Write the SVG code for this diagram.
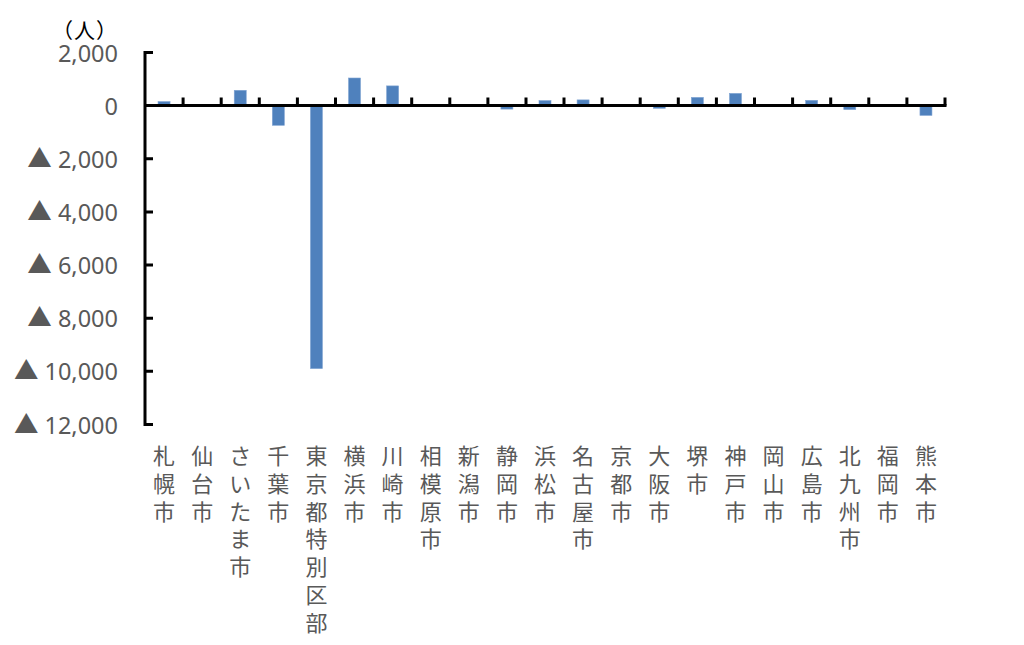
<svg xmlns="http://www.w3.org/2000/svg" width="1024" height="645" viewBox="0 0 1024 645">
<style>
.bar{fill:#4f81bd;stroke:#7fa3d3;stroke-width:0.6}
.ax{stroke:#000;stroke-width:3;fill:none;stroke-linecap:square}
.tk{stroke:#000;stroke-width:3;fill:none}
.yl{font-family:"Noto Sans","Noto Sans CJK JP",sans-serif;font-size:23.5px;fill:#595959;text-anchor:end}
.tri{font-family:"Noto Sans CJK JP",sans-serif;font-size:24.5px}
.cl{font-family:"Noto Sans CJK JP",sans-serif;font-size:22px;fill:#595959;text-anchor:middle}
.un{font-family:"Noto Sans CJK JP",sans-serif;font-size:21px;fill:#000;text-anchor:middle;letter-spacing:1px}
</style>
<rect width="1024" height="645" fill="#fff"/>
<text class="un" x="85" y="38">（人）</text>
<g id="y-labels">
<text class="yl" x="118" y="61.5">2,000</text>
<text class="yl" x="118" y="114.6">0</text>
<text class="yl" x="118" y="167.7"><tspan class="tri">▲</tspan> 2,000</text>
<text class="yl" x="118" y="220.9"><tspan class="tri">▲</tspan> 4,000</text>
<text class="yl" x="118" y="274"><tspan class="tri">▲</tspan> 6,000</text>
<text class="yl" x="118" y="327.2"><tspan class="tri">▲</tspan> 8,000</text>
<text class="yl" x="118" y="380.3"><tspan class="tri">▲</tspan> 10,000</text>
<text class="yl" x="118" y="433.5"><tspan class="tri">▲</tspan> 12,000</text>
</g>
<g id="c0"><rect class="bar" x="158.05" y="101.6" width="12" height="4"/><text class="cl"><tspan x="164.05" y="464">札</tspan><tspan x="164.05" y="491.8">幌</tspan><tspan x="164.05" y="519.6">市</tspan></text></g>
<g id="c1"><text class="cl"><tspan x="202.14" y="464">仙</tspan><tspan x="202.14" y="491.8">台</tspan><tspan x="202.14" y="519.6">市</tspan></text></g>
<g id="c2"><rect class="bar" x="234.24" y="90.3" width="12" height="15.3"/><text class="cl"><tspan x="240.24" y="464">さ</tspan><tspan x="240.24" y="491.8">い</tspan><tspan x="240.24" y="519.6">た</tspan><tspan x="240.24" y="547.4">ま</tspan><tspan x="240.24" y="575.2">市</tspan></text></g>
<g id="c3"><rect class="bar" x="272.33" y="105.6" width="12" height="19.7"/><text class="cl"><tspan x="278.33" y="464">千</tspan><tspan x="278.33" y="491.8">葉</tspan><tspan x="278.33" y="519.6">市</tspan></text></g>
<g id="c4"><rect class="bar" x="310.43" y="105.6" width="12" height="263"/><text class="cl"><tspan x="316.43" y="464">東</tspan><tspan x="316.43" y="491.8">京</tspan><tspan x="316.43" y="519.6">都</tspan><tspan x="316.43" y="547.4">特</tspan><tspan x="316.43" y="575.2">別</tspan><tspan x="316.43" y="603">区</tspan><tspan x="316.43" y="630.8">部</tspan></text></g>
<g id="c5"><rect class="bar" x="348.52" y="78" width="12" height="27.6"/><text class="cl"><tspan x="354.52" y="464">横</tspan><tspan x="354.52" y="491.8">浜</tspan><tspan x="354.52" y="519.6">市</tspan></text></g>
<g id="c6"><rect class="bar" x="386.62" y="85.9" width="12" height="19.7"/><text class="cl"><tspan x="392.62" y="464">川</tspan><tspan x="392.62" y="491.8">崎</tspan><tspan x="392.62" y="519.6">市</tspan></text></g>
<g id="c7"><text class="cl"><tspan x="430.71" y="464">相</tspan><tspan x="430.71" y="491.8">模</tspan><tspan x="430.71" y="519.6">原</tspan><tspan x="430.71" y="547.4">市</tspan></text></g>
<g id="c8"><text class="cl"><tspan x="468.81" y="464">新</tspan><tspan x="468.81" y="491.8">潟</tspan><tspan x="468.81" y="519.6">市</tspan></text></g>
<g id="c9"><rect class="bar" x="500.9" y="105.6" width="12" height="3.5"/><text class="cl"><tspan x="506.9" y="464">静</tspan><tspan x="506.9" y="491.8">岡</tspan><tspan x="506.9" y="519.6">市</tspan></text></g>
<g id="c10"><rect class="bar" x="539" y="100.6" width="12" height="5"/><text class="cl"><tspan x="545" y="464">浜</tspan><tspan x="545" y="491.8">松</tspan><tspan x="545" y="519.6">市</tspan></text></g>
<g id="c11"><rect class="bar" x="577.09" y="99.9" width="12" height="5.7"/><text class="cl"><tspan x="583.09" y="464">名</tspan><tspan x="583.09" y="491.8">古</tspan><tspan x="583.09" y="519.6">屋</tspan><tspan x="583.09" y="547.4">市</tspan></text></g>
<g id="c12"><text class="cl"><tspan x="621.19" y="464">京</tspan><tspan x="621.19" y="491.8">都</tspan><tspan x="621.19" y="519.6">市</tspan></text></g>
<g id="c13"><rect class="bar" x="653.29" y="105.6" width="12" height="2.7"/><text class="cl"><tspan x="659.29" y="464">大</tspan><tspan x="659.29" y="491.8">阪</tspan><tspan x="659.29" y="519.6">市</tspan></text></g>
<g id="c14"><rect class="bar" x="691.38" y="97.4" width="12" height="8.2"/><text class="cl"><tspan x="697.38" y="464">堺</tspan><tspan x="697.38" y="491.8">市</tspan></text></g>
<g id="c15"><rect class="bar" x="729.48" y="93.4" width="12" height="12.2"/><text class="cl"><tspan x="735.48" y="464">神</tspan><tspan x="735.48" y="491.8">戸</tspan><tspan x="735.48" y="519.6">市</tspan></text></g>
<g id="c16"><text class="cl"><tspan x="773.57" y="464">岡</tspan><tspan x="773.57" y="491.8">山</tspan><tspan x="773.57" y="519.6">市</tspan></text></g>
<g id="c17"><rect class="bar" x="805.67" y="100.3" width="12" height="5.3"/><text class="cl"><tspan x="811.67" y="464">広</tspan><tspan x="811.67" y="491.8">島</tspan><tspan x="811.67" y="519.6">市</tspan></text></g>
<g id="c18"><rect class="bar" x="843.76" y="105.6" width="12" height="4"/><text class="cl"><tspan x="849.76" y="464">北</tspan><tspan x="849.76" y="491.8">九</tspan><tspan x="849.76" y="519.6">州</tspan><tspan x="849.76" y="547.4">市</tspan></text></g>
<g id="c19"><text class="cl"><tspan x="887.86" y="464">福</tspan><tspan x="887.86" y="491.8">岡</tspan><tspan x="887.86" y="519.6">市</tspan></text></g>
<g id="c20"><rect class="bar" x="919.95" y="105.6" width="12" height="9.8"/><text class="cl"><tspan x="925.95" y="464">熊</tspan><tspan x="925.95" y="491.8">本</tspan><tspan x="925.95" y="519.6">市</tspan></text></g>
<g id="axes">
<path class="ax" d="M145 52.5V424.5M145 105.6H945"/>
<path class="tk" d="M145 52.5H153M145 158.7H153M145 211.9H153M145 265H153M145 318.2H153M145 371.3H153M145 424.5H153"/>
<path class="tk" d="M183.1 105.6V97.6M221.2 105.6V97.6M259.3 105.6V97.6M297.4 105.6V97.6M335.5 105.6V97.6M373.6 105.6V97.6M411.7 105.6V97.6M449.8 105.6V97.6M487.9 105.6V97.6M526 105.6V97.6M564 105.6V97.6M602.1 105.6V97.6M640.2 105.6V97.6M678.3 105.6V97.6M716.4 105.6V97.6M754.5 105.6V97.6M792.6 105.6V97.6M830.7 105.6V97.6M868.8 105.6V97.6M906.9 105.6V97.6M945 105.6V97.6"/>
</g>
</svg>
